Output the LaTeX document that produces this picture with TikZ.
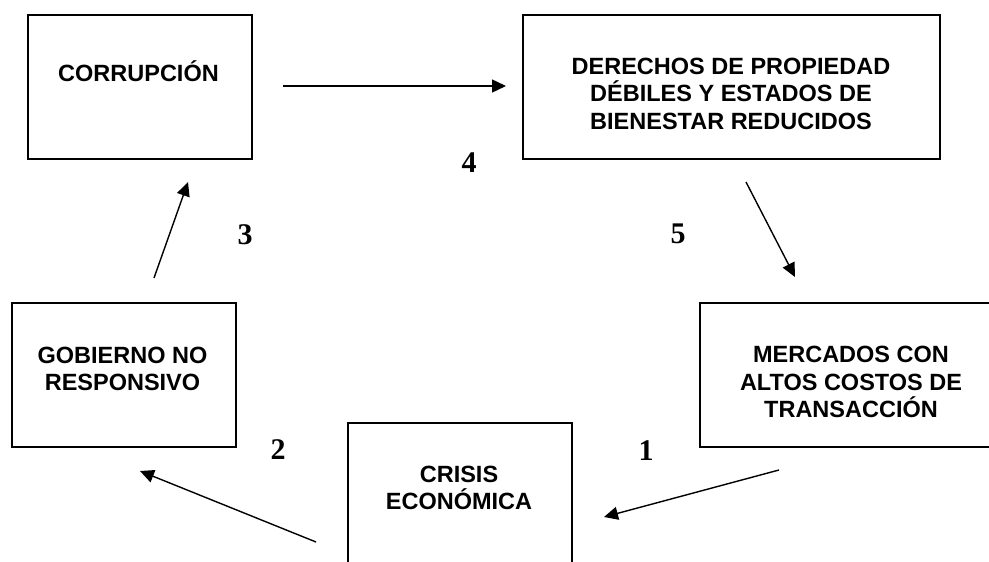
\documentclass[tikz,border=0pt]{standalone}
\usepackage{fontspec}
\setmainfont{Liberation Sans}
\newfontfamily\numfont{Liberation Serif}
\usetikzlibrary{arrows.meta}
\begin{document}
\begin{tikzpicture}[x=1pt,y=-1pt,
  boxframe/.style={draw,line width=1.6pt,inner sep=0pt,anchor=north west},
  boxtext/.style={align=center,inner sep=0pt,font=\fontsize{23.5}{27.5}\selectfont\bfseries},
  numlabel/.style={inner sep=0pt,font=\fontsize{30}{30}\selectfont\numfont\bfseries},
  flow/.style={line width=1.4pt,-{Triangle[length=14pt,width=13pt]}}]
\useasboundingbox (0,0) rectangle (989,562);
% boxes
\node[boxframe,minimum width=224pt,minimum height=144pt] (corr) at (27,14) {};
\node[boxframe,minimum width=417pt,minimum height=144pt] (der) at (522,14) {};
\node[boxframe,minimum width=224pt,minimum height=144pt] (gob) at (11,302) {};
\node[boxframe,minimum width=304pt,minimum height=144pt] (mer) at (699,302) {};
\node[boxframe,minimum width=224pt,minimum height=160pt] (cri) at (347,422) {};
% texts
\node[boxtext] (tcorr) at (138.5,71) {CORRUPCIÓN};
\node[boxtext] (tder) at (731,93.5) {DERECHOS DE PROPIEDAD\\DÉBILES Y ESTADOS DE\\BIENESTAR REDUCIDOS};
\node[boxtext] (tgob) at (122.5,369) {GOBIERNO NO\\RESPONSIVO};
\node[boxtext] (tmer) at (851,382) {MERCADOS CON\\ALTOS COSTOS DE\\TRANSACCIÓN};
\node[boxtext] (tcri) at (459,488) {CRISIS\\ECONÓMICA};
% arrow end points
\coordinate (a4s) at (283,86);  \coordinate (a4e) at (506,86);
\coordinate (a3s) at (154,278); \coordinate (a3e) at (188,182);
\coordinate (a5s) at (746,182); \coordinate (a5e) at (795,277);
\coordinate (a1s) at (779,470); \coordinate (a1e) at (604,517);
\coordinate (a2s) at (316,542); \coordinate (a2e) at (140,471);
\draw[flow] (a4s) -- (a4e);
\draw[flow] (a3s) -- (a3e);
\draw[flow] (a5s) -- (a5e);
\draw[flow] (a1s) -- (a1e);
\draw[flow] (a2s) -- (a2e);
% numbers
\node[numlabel] (n1) at (646,451) {1};
\node[numlabel] (n2) at (278,450) {2};
\node[numlabel] (n3) at (245,235) {3};
\node[numlabel] (n4) at (469,163) {4};
\node[numlabel] (n5) at (678,234) {5};
\end{tikzpicture}
\end{document}
